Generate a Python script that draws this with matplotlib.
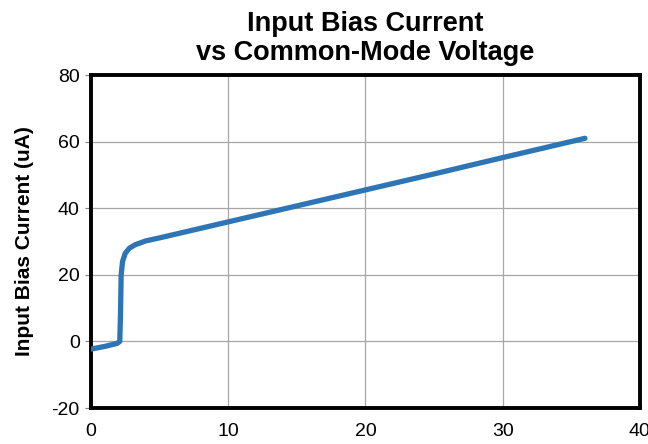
import matplotlib
matplotlib.use('Agg')
import matplotlib.pyplot as plt

# common-mode voltage (V) and input bias current (uA)
vcm = [0.0, 0.5, 1.0, 1.5, 1.9, 2.1, 2.15, 2.2, 2.3, 2.5, 2.8, 3.2, 4.0, 5.0,
       10.0, 15.0, 20.0, 25.0, 30.0, 36.0]
ibias = [-2.3, -1.9, -1.5, -1.0, -0.6, 0.0, 8.0, 20.0, 24.0, 26.5, 28.0, 29.0, 30.2, 31.1,
         35.9, 40.7, 45.5, 50.3, 55.2, 61.0]

x_ticks = [0, 10, 20, 30, 40]
y_ticks = [-20, 0, 20, 40, 60, 80]

plt.rcParams['font.family'] = ['Liberation Sans', 'DejaVu Sans']
plt.rcParams['axes.unicode_minus'] = False

fig = plt.figure(figsize=(6.48, 4.44), dpi=100)
ax = fig.add_axes([0.1404, 0.081, 0.847, 0.75])

ax.plot(vcm, ibias, color='#2e75b6', lw=3.8, solid_capstyle='round', zorder=3)

ax.set_xlim(0, 40)
ax.set_ylim(-20, 80)
ax.set_xticks(x_ticks)
ax.set_yticks(y_ticks)
ax.grid(True, color='#a6a6a6', lw=0.9)
ax.tick_params(axis='both', labelsize=14, length=4, color='#808080')
ax.tick_params(axis='x', length=0, pad=11)
ax.tick_params(axis='y', pad=4)
for s in ax.spines.values():
    s.set_linewidth(2.8)
    s.set_color('black')

ax.set_ylabel('Input Bias Current (uA)', fontsize=15, fontweight='bold', labelpad=13)
ax.set_title('Input Bias Current\nvs Common-Mode Voltage', fontsize=19.5, fontweight='bold',
             linespacing=1.12, pad=11)

fig.savefig('out.png', dpi=100)
